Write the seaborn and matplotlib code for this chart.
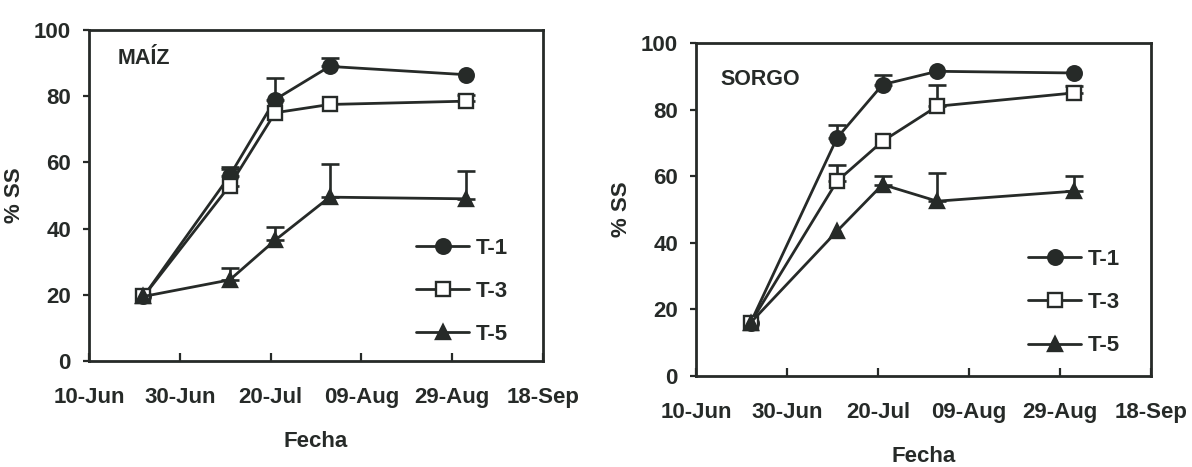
import numpy as np
import pandas as pd
import matplotlib
matplotlib.use("Agg")
import matplotlib.pyplot as plt
import matplotlib.dates as mdates
import seaborn as sns

# ---- data ----
fechas = ["2001-06-22", "2001-07-11", "2001-07-21", "2001-08-02", "2001-09-01"]
tick_fechas = ["2001-06-10", "2001-06-30", "2001-07-20", "2001-08-09", "2001-08-29", "2001-09-18"]
series_names = ["T-1", "T-3", "T-5"]

maiz_t1 = [19.5, 56.0, 79.0, 89.0, 86.5]
maiz_t3 = [19.5, 53.0, 75.0, 77.5, 78.5]
maiz_t5 = [19.5, 24.5, 36.5, 49.5, 49.0]
maiz_t1_err = [0, 2.5, 6.5, 2.5, 0]
maiz_t3_err = [0, 5.0, 0, 0, 2.0]
maiz_t5_err = [0, 3.5, 4.0, 10.0, 8.5]

sorgo_t1 = [16.0, 71.5, 87.5, 91.5, 91.0]
sorgo_t3 = [16.0, 58.5, 70.5, 81.0, 85.0]
sorgo_t5 = [16.0, 43.5, 57.5, 52.5, 55.5]
sorgo_t1_err = [0, 4.0, 3.0, 0, 0]
sorgo_t3_err = [0, 5.0, 0, 6.5, 2.0]
sorgo_t5_err = [0, 0, 2.5, 8.5, 4.5]

panel_titles = ["MAÍZ", "SORGO"]
x_label = "Fecha"
y_label = "% SS"

# ---- style ----
sns.set_style("ticks")
plt.rcParams["font.family"] = ["Liberation Sans", "DejaVu Sans"]
plt.rcParams["font.weight"] = "bold"
INK = "#262a28"

fig = plt.figure(figsize=(11.92, 4.67), dpi=100)
ax_l = fig.add_axes([89/1192, 1-361/467, 454/1192, 331/467])
ax_r = fig.add_axes([696/1192, 1-376/467, 455/1192, 333/467])

x = pd.to_datetime(fechas)
markers = {"T-1": dict(marker="o", markerfacecolor=INK, markersize=10.5),
           "T-3": dict(marker="s", markerfacecolor="white", markersize=9.5),
           "T-5": dict(marker="^", markerfacecolor=INK, markersize=10.5)}

def draw(ax, vals, errs, title, tpos, leg_anchor):
    for name, v, e in zip(series_names, vals, errs):
        v = np.asarray(v, float); e = np.asarray(e, float)
        m = e > 0
        if m.any():
            ax.errorbar(x[m], v[m], yerr=[np.zeros(m.sum()), e[m]], fmt="none",
                        ecolor=INK, elinewidth=1.9, capsize=6.5, capthick=1.9, zorder=2)
        sns.lineplot(x=x, y=v, ax=ax, color=INK, linewidth=2.0, label=name,
                     markeredgecolor=INK, markeredgewidth=1.7, zorder=3,
                     **markers[name])
    ax.set_xlim(pd.Timestamp(tick_fechas[0]), pd.Timestamp(tick_fechas[-1]))
    ax.set_ylim(0, 100)
    ax.set_xticks(pd.to_datetime(tick_fechas))
    ax.xaxis.set_major_formatter(mdates.DateFormatter("%d-%b"))
    ax.set_yticks([0, 20, 40, 60, 80, 100])
    ax.tick_params(axis="x", direction="in", length=6, width=1.6, pad=19,
                   labelsize=16, colors=INK)
    ax.tick_params(axis="y", direction="out", length=4, width=1.6, pad=9,
                   labelsize=16, colors=INK)
    for s in ax.spines.values():
        s.set_visible(True)
        s.set_linewidth(2.0)
        s.set_color(INK)
    ax.set_xlabel(x_label, fontsize=16, fontweight="bold", color=INK, labelpad=16)
    ax.set_ylabel(y_label, fontsize=16, fontweight="bold", color=INK, labelpad=6)
    ax.text(tpos[0], tpos[1], title, transform=ax.transAxes, fontsize=15.5,
            fontweight="bold", color=INK, ha="left", va="center")
    leg = ax.legend(loc="center left", bbox_to_anchor=leg_anchor, frameon=False,
                    fontsize=16, handlelength=2.4, handletextpad=0.3,
                    labelspacing=1.0, borderpad=0, borderaxespad=0)
    for t in leg.get_texts():
        t.set_color(INK)
        t.set_fontweight("bold")

draw(ax_l, [maiz_t1, maiz_t3, maiz_t5], [maiz_t1_err, maiz_t3_err, maiz_t5_err],
     panel_titles[0], (0.064, 0.915), (0.72, 0.21))
draw(ax_r, [sorgo_t1, sorgo_t3, sorgo_t5], [sorgo_t1_err, sorgo_t3_err, sorgo_t5_err],
     panel_titles[1], (0.053, 0.89), (0.73, 0.22))

fig.savefig("out.png", dpi=100, facecolor="white")
